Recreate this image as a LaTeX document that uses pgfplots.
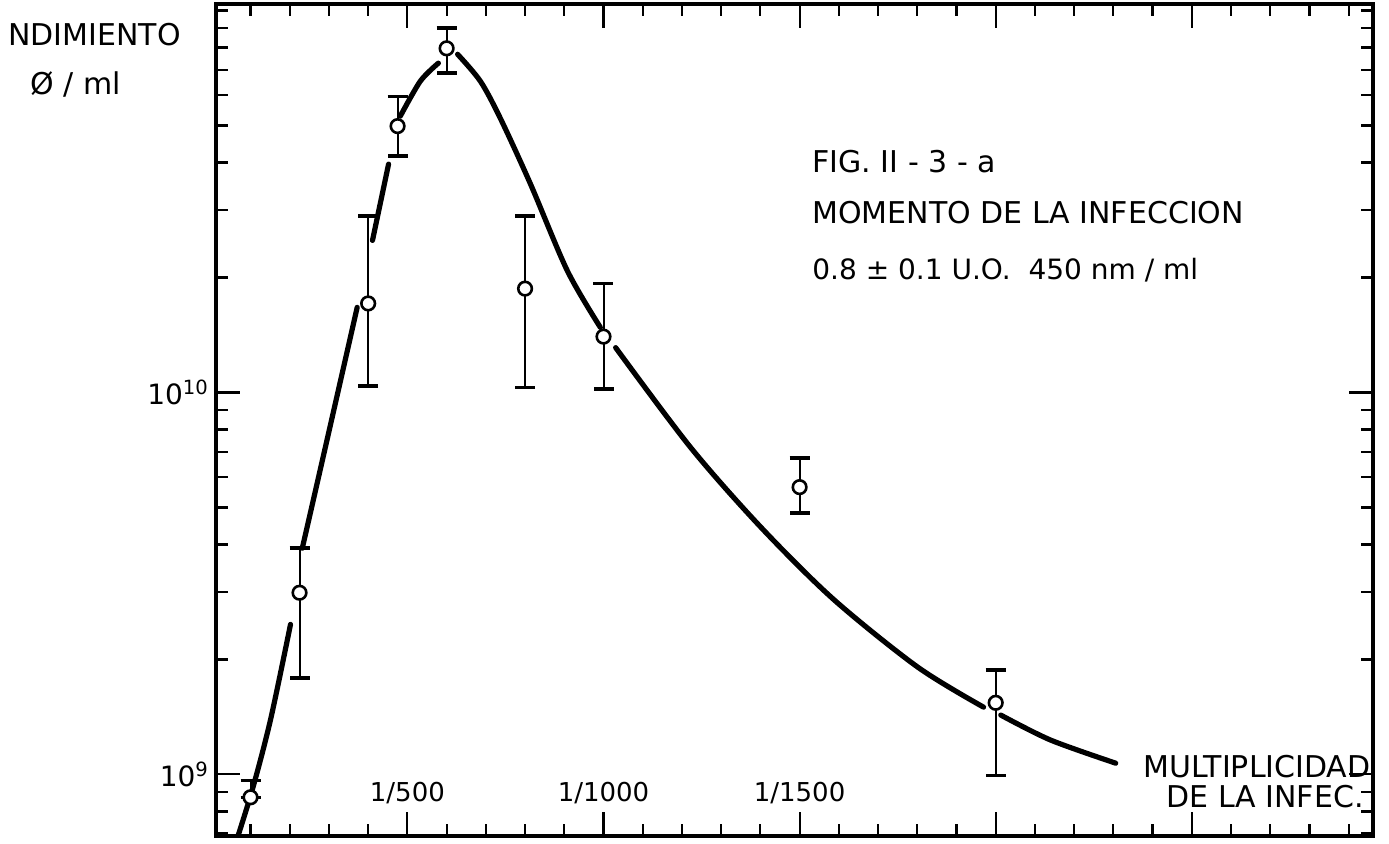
\documentclass[border=0pt]{standalone}
\usepackage{pgfplots}
\pgfplotsset{compat=1.18}
\usepackage{pgfplotstable}
\usepackage{fontspec}
\setmainfont{DejaVu Sans}

\pgfplotstableread{
x     y        ep       em
100   8.71e8   0.93e8   0
225   2.99e9   0.93e9   1.20e9
400   1.71e10  1.19e10  0.67e10
475   4.98e10  0.98e10  0.82e10
600   7.96e10  1.02e10  1.11e10
800   1.87e10  1.03e10  0.84e10
1000  1.40e10  0.53e10  0.38e10
1500  5.65e9   1.08e9   0.82e9
2000  1.54e9   0.34e9   0.546e9
}\points

\begin{document}
\begin{tikzpicture}[x=1pt,y=1pt]
\useasboundingbox (0,0) rectangle (694.5,421.5);
\begin{axis}[
  at={(108pt,3.5pt)}, anchor=south west,
  width=578.5pt, height=416pt, scale only axis,
  xmin=12, xmax=2962,
  ymode=log, ymin=6.9e8, ymax=1.04e11,
  axis line style={line width=2.2pt},
  tick style={line width=1.1pt, black},
  tick align=inside,
  major tick length=12pt, minor tick length=6pt,
  xtick={500,1000,1500,2000,2500},
  xticklabels={1/500,1/1000,1/1500,{},{}},
  minor xtick={100,200,...,2900},
  ytick={1e9,1e10},
  yticklabels={10\textsuperscript{9},10\textsuperscript{10}},
  minor ytick={7e8,8e8,9e8,2e9,3e9,4e9,5e9,6e9,7e9,8e9,9e9,2e10,3e10,4e10,5e10,6e10,7e10,8e10,9e10,1e11},
  xticklabel style={font=\fontsize{13}{13}\selectfont, anchor=center, yshift=21.5pt},
  yticklabel style={font=\fontsize{14}{14}\selectfont},
  every axis plot/.append style={line cap=round},
]
% fitted curve, drawn in pieces with gaps as in the original
\addplot[line width=2.6pt, smooth] coordinates {(60,6.5e8) (105,9.15e8) (151,1.39e9) (202,2.47e9)};
\addplot[line width=2.6pt, smooth] coordinates {(232,3.91e9) (260,5.22e9) (316,9.33e9) (372,1.67e10)};
\addplot[line width=2.6pt, smooth] coordinates {(411,2.50e10) (452,3.96e10)};
\addplot[line width=2.6pt, smooth] coordinates {(482,5.29e10) (533,6.53e10) (579,7.28e10)};
\addplot[line width=2.6pt, smooth] coordinates {(628,7.68e10) (686,6.53e10) (737,5.22e10) (814,3.51e10) (908,2.08e10) (992,1.48e10)};
\addplot[line width=2.6pt, smooth] coordinates {(1031,1.31e10) (1222,7.18e9) (1401,4.44e9) (1587,2.87e9) (1801,1.91e9) (1969,1.50e9)};
\addplot[line width=2.6pt, smooth] coordinates {(2013,1.43e9) (2140,1.23e9) (2306,1.07e9)};
% error bars
\addplot[only marks, mark=none,
  error bars/.cd, y dir=both, y explicit,
  error bar style={line width=1pt},
  error mark options={line width=1.8pt, mark size=5pt, rotate=90}]
  table[x=x, y=y, y error plus=ep, y error minus=em]{\points};
% data points
\addplot[only marks, mark=*, mark size=3.4pt,
  mark options={line width=1.3pt, draw=black, fill=white}]
  table[x=x, y=y]{\points};
\end{axis}
\node[anchor=west, inner sep=0, font=\fontsize{15}{15}\selectfont] at (4,404) {NDIMIENTO};
\node[anchor=west, inner sep=0, font=\fontsize{15}{15}\selectfont] at (15,379.5) {Ø / ml};
\node[anchor=west, inner sep=0, font=\fontsize{15}{15}\selectfont] at (406,340.5) {FIG. II - 3 - a};
\node[anchor=west, inner sep=0, font=\fontsize{15}{15}\selectfont] at (406,315) {MOMENTO DE LA INFECCION};
\node[anchor=west, inner sep=0, font=\fontsize{14}{14}\selectfont] at (406,286.5) {0.8 ± 0.1 U.O.\ \ 450 nm / ml};
\node[anchor=east, inner sep=0, font=\fontsize{15}{15}\selectfont] at (685.5,38) {MULTIPLICIDAD};
\node[anchor=east, inner sep=0, font=\fontsize{15}{15}\selectfont] at (682,23) {DE LA INFEC.};
\end{tikzpicture}
\end{document}
